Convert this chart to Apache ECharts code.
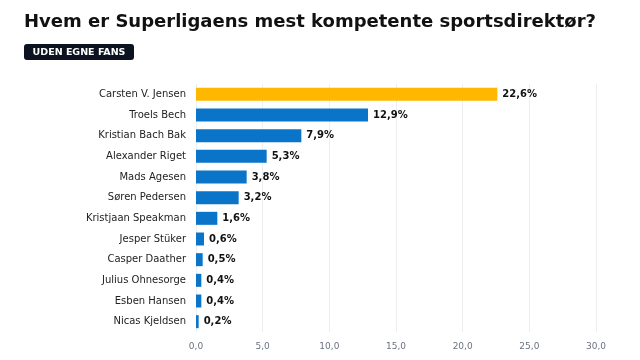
<!DOCTYPE html>
<html><head><meta charset="utf-8">
<script src="https://cdn.jsdelivr.net/npm/echarts@6/dist/echarts.min.js"></script>
<style>html,body{margin:0;padding:0;background:#fff}#c{width:640px;height:360px}</style>
</head><body><div id="c"></div>
<script>
const categories = ["Carsten V. Jensen","Troels Bech","Kristian Bach Bak","Alexander Riget","Mads Agesen","Søren Pedersen","Kristjaan Speakman","Jesper Stüker","Casper Daather","Julius Ohnesorge","Esben Hansen","Nicas Kjeldsen"];
const values = [22.6,12.9,7.9,5.3,3.8,3.2,1.6,0.6,0.5,0.4,0.4,0.2];
const xTicks = [0,5,10,15,20,25,30];
const titleText = "Hvem er Superligaens mest kompetente sportsdirektør?";
const badgeText = "UDEN EGNE FANS";

const chart = echarts.init(document.getElementById('c'), null, {renderer:'canvas'});
const fmt = v => v.toFixed(1).replace('.', ',');
chart.setOption({
  animation:false,
  backgroundColor:'#fff',
  title:{text:titleText,left:19,top:8,textStyle:{fontFamily:'DejaVu Sans',fontSize:18,fontWeight:'bold',color:'#111'}},
  graphic:[{type:'group',left:24,top:44,children:[
    {type:'rect',shape:{x:0,y:0,width:110,height:16,r:3},style:{fill:'#0b1220'}},
    {type:'text',style:{text:badgeText,x:55,y:8.5,align:'center',verticalAlign:'middle',fill:'#fff',font:'bold 9.5px DejaVu Sans'}}
  ]}],
  grid:{left:196,right:44,top:84,bottom:28,containLabel:false},
  xAxis:{type:'value',min:xTicks[0],max:xTicks[xTicks.length-1],interval:5,
    axisLine:{show:false},axisTick:{show:false},
    splitLine:{lineStyle:{color:'#eceef2',width:1}},
    axisLabel:{formatter:v=>fmt(v),color:'#6b7280',fontFamily:'DejaVu Sans',fontSize:9,margin:10}},
  yAxis:{type:'category',data:categories,inverse:true,
    axisLine:{show:false},axisTick:{show:false},
    axisLabel:{color:'#222',fontFamily:'DejaVu Sans',fontSize:10,margin:10}},
  series:[{type:'bar',data:values.map((v,i)=>({value:v,itemStyle:{color:i===0?'#FFB700':'#0A74C9'}})),
    barWidth:13,
    label:{show:true,position:'right',distance:5,formatter:p=>fmt(p.value)+'%',fontFamily:'DejaVu Sans',fontWeight:'bold',fontSize:10,color:'#111'}}]
});
</script></body></html>
